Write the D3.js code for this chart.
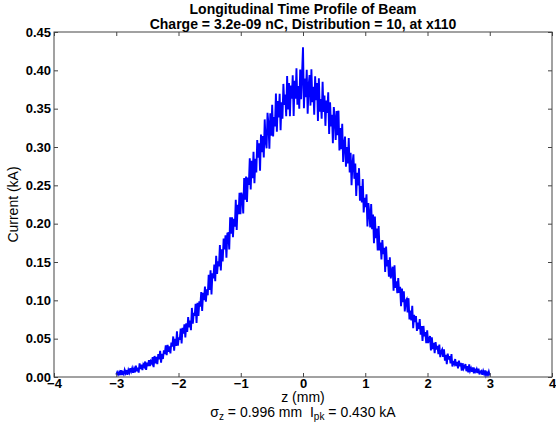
<!DOCTYPE html>
<html>
<head>
<meta charset="utf-8">
<script src="https://cdn.jsdelivr.net/npm/d3@7"></script>
<style>
  html, body { margin: 0; padding: 0; background: #fff; }
  svg { display: block; font-family: "Liberation Sans", Arial, sans-serif; }
</style>
</head>
<body>
<svg id="chart" width="556" height="425"></svg>
<script>
// ---- data ----
const titleLines = ["Longitudinal Time Profile of Beam", "Charge = 3.2e-09 nC, Distribution = 10, at x110"];
const xLabel = "z (mm)";
const yLabel = "Current (kA)";
const xTicks = [-4, -3, -2, -1, 0, 1, 2, 3, 4];
const yTicks = [0.00, 0.05, 0.10, 0.15, 0.20, 0.25, 0.30, 0.35, 0.40, 0.45];
const zStart = -3.0, zStep = 0.015;
const current = [
  0.0032, 0.0062, 0.0032, 0.0062, 0.0024, 0.0090, 0.0025, 0.0063, 0.0038, 0.0092,
  0.0051, 0.0090, 0.0028, 0.0091, 0.0058, 0.0114, 0.0073, 0.0113, 0.0056, 0.0104,
  0.0059, 0.0147, 0.0074, 0.0120, 0.0058, 0.0177, 0.0103, 0.0162, 0.0089, 0.0161,
  0.0136, 0.0202, 0.0094, 0.0189, 0.0141, 0.0220, 0.0143, 0.0204, 0.0180, 0.0259,
  0.0129, 0.0274, 0.0179, 0.0264, 0.0169, 0.0298, 0.0229, 0.0341, 0.0188, 0.0302,
  0.0235, 0.0349, 0.0299, 0.0413, 0.0286, 0.0419, 0.0328, 0.0400, 0.0309, 0.0450,
  0.0398, 0.0529, 0.0343, 0.0498, 0.0405, 0.0595, 0.0409, 0.0517, 0.0487, 0.0633,
  0.0438, 0.0642, 0.0565, 0.0687, 0.0517, 0.0699, 0.0588, 0.0781, 0.0647, 0.0735,
  0.0610, 0.0901, 0.0697, 0.0838, 0.0799, 0.0955, 0.0706, 0.0968, 0.0797, 0.0986,
  0.0920, 0.1109, 0.0863, 0.1097, 0.1003, 0.1180, 0.0982, 0.1144, 0.1066, 0.1333,
  0.1134, 0.1391, 0.1077, 0.1353, 0.1286, 0.1467, 0.1248, 0.1581, 0.1345, 0.1508,
  0.1443, 0.1720, 0.1389, 0.1666, 0.1507, 0.1805, 0.1665, 0.1849, 0.1557, 0.1874,
  0.1878, 0.1665, 0.2082, 0.1869, 0.2083, 0.1825, 0.2062, 0.1962, 0.2311, 0.1918,
  0.2245, 0.2122, 0.2404, 0.2124, 0.2405, 0.2348, 0.2133, 0.2594, 0.2311, 0.2615,
  0.2282, 0.2603, 0.2507, 0.2854, 0.2446, 0.2819, 0.2593, 0.2939, 0.2528, 0.2846,
  0.2669, 0.3091, 0.2862, 0.3050, 0.2690, 0.3162, 0.2932, 0.3144, 0.2862, 0.3360,
  0.3072, 0.2983, 0.3445, 0.3298, 0.2977, 0.3439, 0.3147, 0.3550, 0.3137, 0.3392,
  0.3269, 0.3698, 0.3198, 0.3598, 0.3385, 0.3693, 0.3218, 0.3584, 0.3370, 0.3823,
  0.3550, 0.3685, 0.3400, 0.3925, 0.3490, 0.3835, 0.3400, 0.3803, 0.3630, 0.3937,
  0.3405, 0.3863, 0.3630, 0.4028, 0.3552, 0.3795, 0.3498, 0.4011, 0.3624, 0.3957,
  0.4300,
  0.3507, 0.3894, 0.3651, 0.4008, 0.3435, 0.3792, 0.3938, 0.3540, 0.4013, 0.3585,
  0.3787, 0.3420, 0.3923, 0.3610, 0.3835, 0.3340, 0.3895, 0.3460, 0.3625, 0.3370,
  0.3852, 0.3457, 0.3671, 0.3276, 0.3606, 0.3443, 0.3714, 0.3169, 0.3582, 0.3269,
  0.3421, 0.3050, 0.3521, 0.3379, 0.3091, 0.3470, 0.3153, 0.3474, 0.2954, 0.3246,
  0.2970, 0.3304, 0.2806, 0.3036, 0.3136, 0.2742, 0.2998, 0.2784, 0.3117, 0.2669,
  0.2924, 0.2502, 0.2783, 0.2905, 0.2585, 0.2784, 0.2360, 0.2663, 0.2499, 0.2724,
  0.2299, 0.2492, 0.2278, 0.2583, 0.2145, 0.2337, 0.2214, 0.2382, 0.1965, 0.2268,
  0.2144, 0.1951, 0.2255, 0.1927, 0.2118, 0.1745, 0.2094, 0.1811, 0.1935, 0.1652,
  0.1969, 0.1652, 0.1754, 0.1532, 0.1786, 0.1602, 0.1685, 0.1370, 0.1701, 0.1443,
  0.1527, 0.1307, 0.1562, 0.1286, 0.1372, 0.1438, 0.1125, 0.1457, 0.1163, 0.1248,
  0.1093, 0.1291, 0.1099, 0.1177, 0.0925, 0.1153, 0.0977, 0.1118, 0.0854, 0.0995,
  0.1016, 0.0842, 0.1028, 0.0751, 0.0865, 0.0739, 0.0928, 0.0637, 0.0811, 0.0715,
  0.0794, 0.0600, 0.0711, 0.0623, 0.0757, 0.0552, 0.0664, 0.0471, 0.0666, 0.0532,
  0.0586, 0.0440, 0.0610, 0.0444, 0.0490, 0.0534, 0.0346, 0.0519, 0.0365, 0.0445,
  0.0312, 0.0455, 0.0357, 0.0405, 0.0298, 0.0424, 0.0258, 0.0333, 0.0358, 0.0261,
  0.0362, 0.0214, 0.0290, 0.0169, 0.0306, 0.0229, 0.0273, 0.0179, 0.0300, 0.0137,
  0.0211, 0.0174, 0.0234, 0.0143, 0.0196, 0.0111, 0.0213, 0.0142, 0.0184, 0.0082,
  0.0179, 0.0107, 0.0132, 0.0169, 0.0075, 0.0142, 0.0060, 0.0164, 0.0081, 0.0113,
  0.0068, 0.0124, 0.0049, 0.0097, 0.0070, 0.0102, 0.0051, 0.0108, 0.0034, 0.0071,
  0.0080, 0.0030, 0.0079, 0.0041, 0.0086, 0.0024, 0.0058, 0.0028, 0.0070, 0.0020
];
const sigmaZ = "0.996", iPk = "0.430";

// ---- layout ----
const svg = d3.select("#chart");
const L = 54, R = 552, T = 32, B = 377;
const x = d3.scaleLinear().domain([-4, 4]).range([L, R]);
const y = d3.scaleLinear().domain([0, 0.45]).range([B, T]);
const frameColor = "#444";

// data line
const pts = current.map((v, i) => [zStart + i * zStep, v]);
svg.append("path")
  .datum(pts)
  .attr("fill", "none")
  .attr("stroke", "#0000ff")
  .attr("stroke-width", 1.9)
  .attr("stroke-linejoin", "miter")
  .attr("d", d3.line().x(d => x(d[0])).y(d => y(d[1])));

// axes (ticks inward on all four sides)
function styleAxis(g) {
  g.select(".domain").remove();
  g.selectAll(".tick line").attr("stroke", frameColor);
  g.selectAll(".tick text").attr("fill", "#000").attr("font-weight", "bold").attr("font-size", 13)
    .attr("font-family", "'Liberation Sans', Arial, sans-serif");
}
const fmtY = d3.format(".2f");
svg.append("g").attr("transform", `translate(0,${B})`)
  .call(d3.axisBottom(x).tickValues(xTicks).tickSize(-4).tickPadding(2).tickFormat(d => d3.format("")(d).replace("-", "\u2212")))
  .call(styleAxis);
svg.append("g").attr("transform", `translate(0,${T})`)
  .call(d3.axisTop(x).tickValues(xTicks).tickSize(-4).tickFormat(""))
  .call(styleAxis);
svg.append("g").attr("transform", `translate(${L},0)`)
  .call(d3.axisLeft(y).tickValues(yTicks).tickSize(-4).tickPadding(3).tickFormat(fmtY))
  .call(styleAxis);
svg.append("g").attr("transform", `translate(${R},0)`)
  .call(d3.axisRight(y).tickValues(yTicks).tickSize(-4).tickFormat(""))
  .call(styleAxis);

// frame
svg.append("rect").attr("x", L).attr("y", T).attr("width", R - L).attr("height", B - T)
  .attr("fill", "none").attr("stroke", frameColor).attr("stroke-width", 1);

// title
const cx = (L + R) / 2;
svg.append("text").attr("x", cx).attr("y", 14).attr("text-anchor", "middle")
  .attr("font-weight", "bold").attr("font-size", 14).text(titleLines[0]);
svg.append("text").attr("x", cx).attr("y", 29).attr("text-anchor", "middle")
  .attr("font-weight", "bold").attr("font-size", 14).text(titleLines[1]);

// axis labels
svg.append("text").attr("x", cx).attr("y", 402).attr("text-anchor", "middle")
  .attr("font-size", 14).text(xLabel);
svg.append("text").attr("transform", `translate(18,${(T + B) / 2}) rotate(-90)`)
  .attr("text-anchor", "middle").attr("font-size", 14).text(yLabel);

// sigma / peak line
const s = svg.append("text").attr("x", cx).attr("y", 417).attr("text-anchor", "middle")
  .attr("font-size", 14).style("white-space", "pre");
s.append("tspan").text("\u03c3");
s.append("tspan").attr("dy", 3).attr("font-size", 10).text("z");
s.append("tspan").attr("dy", -3).text(` = ${sigmaZ} mm  I`);
s.append("tspan").attr("dy", 3).attr("font-size", 10).text("pk");
s.append("tspan").attr("dy", -3).text(` = ${iPk} kA`);
</script>
</body>
</html>
